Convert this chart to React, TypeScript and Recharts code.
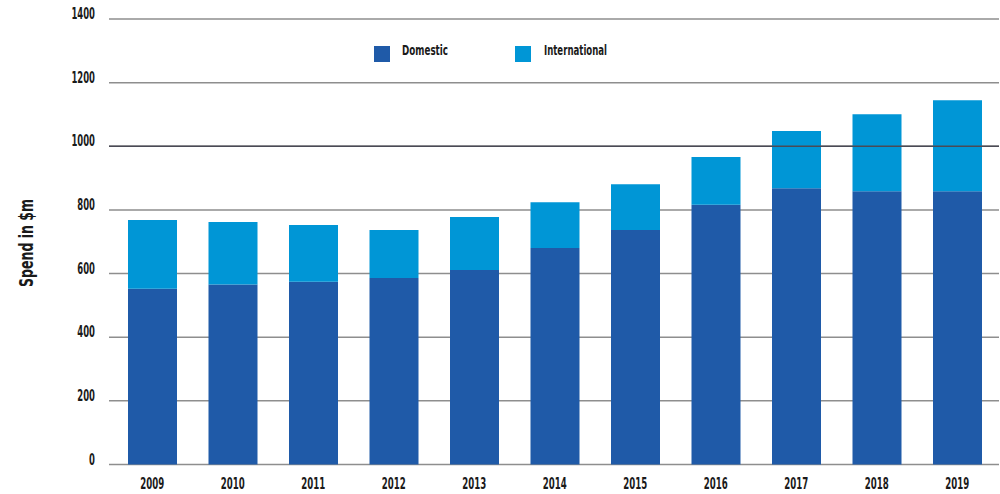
import React from 'react';
import { BarChart, Bar, XAxis, YAxis, CartesianGrid, ReferenceLine } from 'recharts';

const years = ['2009', '2010', '2011', '2012', '2013', '2014', '2015', '2016', '2017', '2018', '2019'];
const domestic = [552, 566, 574, 586, 611, 680, 737, 816, 868, 859, 859];
const international = [216, 196, 179, 151, 167, 144, 144, 150, 180, 242, 286];
const yTicks = [0, 200, 400, 600, 800, 1000, 1200, 1400];
const seriesNames = ['Domestic', 'International'];

const data = years.map((y, i) => ({ year: y, Domestic: domestic[i], International: international[i] }));

const FONT = '"DejaVu Sans Condensed", "Liberation Sans Narrow", sans-serif';
const DOM = '#1f5aa8';
const INTL = '#0096d6';
const INK = '#1a1a1a';

const YTick = (props: any) => {
  const { y, payload } = props;
  const s = String(payload.value);
  return (
    <text x={95} y={y - 4.5} textAnchor="end" dominantBaseline="middle" fontFamily={FONT} fontWeight={700} fontSize={15} fill={INK}
      textLength={s.length * 5.9} lengthAdjust="spacingAndGlyphs">
      {s}
    </text>
  );
};

const XTick = (props: any) => {
  const { x, y, payload } = props;
  const s = String(payload.value);
  return (
    <text x={x} y={y + 12} textAnchor="middle" dominantBaseline="middle" fontFamily={FONT} fontWeight={700} fontSize={15} fill={INK}
      textLength={s.length * 6} lengthAdjust="spacingAndGlyphs">
      {s}
    </text>
  );
};

export default function App() {
  return (
    <div style={{ position: 'absolute', left: 0, top: 0, width: 1000, height: 494, background: '#fff' }}>
      <BarChart width={1000} height={494} data={data} margin={{ top: 19, right: 1, bottom: 0, left: 0 }} barSize={49}>
        <CartesianGrid vertical={false} stroke="#8e8e8e" strokeWidth={1.5} />
        <ReferenceLine y={1000} stroke="#4a4a55" strokeWidth={1.5} />
        <XAxis dataKey="year" axisLine={false} tickLine={false} tick={<XTick />} padding={{ left: 3, right: 1.5 }} height={29.5} interval={0} />
        <YAxis domain={[0, 1400]} ticks={yTicks} axisLine={false} tickLine={false} tick={<YTick />} width={109} interval={0} />
        <Bar dataKey="Domestic" stackId="a" fill={DOM} isAnimationActive={false} />
        <Bar dataKey="International" stackId="a" fill={INTL} isAnimationActive={false} />
      </BarChart>
      <svg width={1000} height={494} style={{ position: 'absolute', left: 0, top: 0, pointerEvents: 'none' }}>
        <text x={0} y={0} transform="translate(27,243) rotate(-90)" textAnchor="middle" dominantBaseline="middle"
          fontFamily={FONT} fontWeight={700} fontSize={19} fill={INK} textLength={88} lengthAdjust="spacingAndGlyphs">
          Spend in $m
        </text>
        <rect x={374} y={46} width={16} height={16} fill={DOM} />
        <text x={402} y={50.5} dominantBaseline="middle" fontFamily={FONT} fontWeight={700} fontSize={14} fill={INK}
          textLength={46} lengthAdjust="spacingAndGlyphs">{seriesNames[0]}</text>
        <rect x={515} y={46} width={16} height={16} fill={INTL} />
        <text x={544} y={50.5} dominantBaseline="middle" fontFamily={FONT} fontWeight={700} fontSize={14} fill={INK}
          textLength={63} lengthAdjust="spacingAndGlyphs">{seriesNames[1]}</text>
      </svg>
    </div>
  );
}
